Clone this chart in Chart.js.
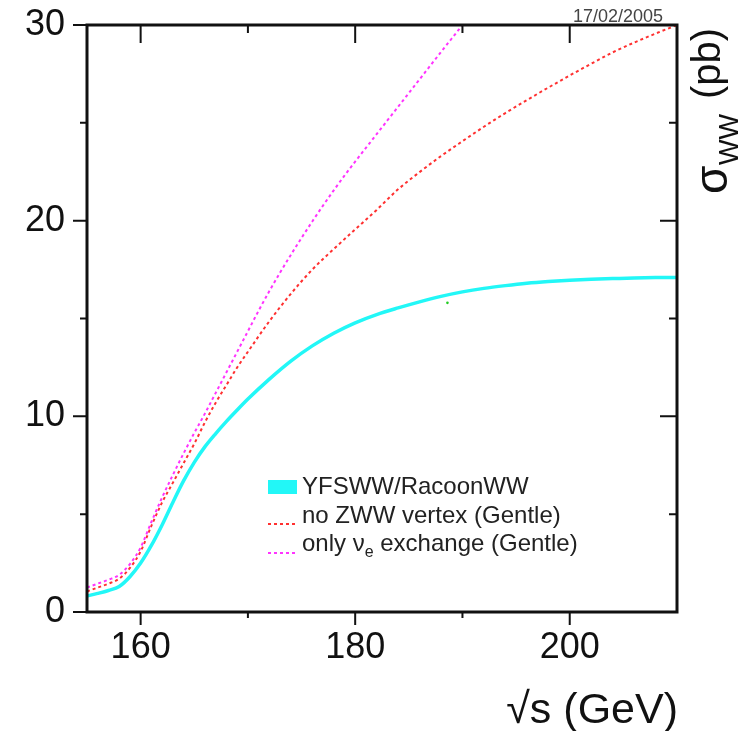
<!DOCTYPE html>
<html>
<head>
<meta charset="utf-8">
<script src="https://cdn.jsdelivr.net/npm/chart.js@4.4.1/dist/chart.umd.min.js"></script>
<style>
  html, body { margin: 0; padding: 0; background: #fff; }
  #wrap { width: 755px; height: 731px; }
</style>
</head>
<body>
<div id="wrap"><canvas id="xsec" width="755" height="731"></canvas></div>
<script>
// sqrt(s) grid shared by YFSWW/RacoonWW and the "no ZWW" curve (GeV)
const sqrtsMain = [155, 156, 157, 158, 159, 160, 161, 162, 163, 164, 165, 166, 167, 168, 169, 170,
  172, 174, 176, 178, 180, 182, 184, 186, 188, 190, 192, 194, 196, 198, 200, 202, 204, 206, 208, 210];
const yfswwRacoon = [0.82, 0.95, 1.1, 1.3, 1.8, 2.5, 3.4, 4.45, 5.6, 6.7, 7.65, 8.45, 9.12, 9.74, 10.32, 10.88,
  11.9, 12.82, 13.6, 14.25, 14.78, 15.2, 15.54, 15.85, 16.13, 16.36, 16.54, 16.68, 16.8, 16.89, 16.96, 17.01, 17.04, 17.07, 17.09, 17.1];
const noZWW = [1.05, 1.25, 1.45, 1.7, 2.25, 3.1, 4.4, 5.6, 6.6, 7.6, 8.6, 9.7, 10.7, 11.6, 12.5, 13.3,
  14.86, 16.26, 17.5, 18.55, 19.55, 20.55, 21.6, 22.48, 23.3, 24.06, 24.8, 25.5, 26.16, 26.8, 27.42, 28.02, 28.6, 29.1, 29.56, 30.0];

// the nu_e-only curve leaves the frame at 190 GeV
const sqrtsNuE = [155, 156, 157, 158, 159, 160, 161, 162, 163, 164, 165, 166, 167, 168, 169, 170, 171, 172,
  173, 174, 175, 176, 177, 178, 179, 180, 181, 182, 183, 184, 185, 186, 187, 188, 189, 190];
const onlyNuE = [1.25, 1.45, 1.65, 1.9, 2.45, 3.3, 4.6, 5.85, 7.0, 8.1, 9.15, 10.15, 11.2, 12.25, 13.3, 14.35, 15.4, 16.4,
  17.35, 18.25, 19.12, 19.96, 20.77, 21.55, 22.3, 23.02, 23.72, 24.42, 25.12, 25.82, 26.52, 27.22, 27.92, 28.62, 29.31, 30.0];

// tiny green marker near 189 GeV
const markX = [188.6];
const markY = [15.8];

const xLabelTicks = [160, 180, 200];
const xMinorTicks = [170, 190];
const yLabelTicks = [0, 10, 20, 30];
const yMinorTicks = [5, 15, 25];

const FONT = '"Liberation Sans", Arial, Helvetica, sans-serif';
const INK = '#111';

function pts(xs, ys) {
  return xs.map((x, i) => ({ x: x, y: ys[i] }));
}

function drawRich(ctx, parts, x, y) {
  parts.forEach(p => {
    ctx.font = p.size + 'px ' + FONT;
    ctx.fillText(p.t, x, y + (p.dy || 0));
    x += ctx.measureText(p.t).width;
  });
}

const framePlugin = {
  id: 'frame',
  afterDatasetsDraw(chart) {
    const { ctx, chartArea: a, scales: { x, y } } = chart;
    ctx.save();
    ctx.strokeStyle = INK;
    ctx.lineWidth = 2;
    ctx.beginPath();
    const xTick = (v, outLen, inLen) => {
      const px = x.getPixelForValue(v);
      ctx.moveTo(px, a.bottom); ctx.lineTo(px, a.bottom + outLen);
      ctx.moveTo(px, a.top); ctx.lineTo(px, a.top + inLen);
    };
    const yTick = (v, outLen, inLen) => {
      const py = y.getPixelForValue(v);
      ctx.moveTo(a.left, py); ctx.lineTo(a.left - outLen, py);
      ctx.moveTo(a.right, py); ctx.lineTo(a.right - inLen, py);
    };
    xLabelTicks.forEach(v => xTick(v, 13, 18));
    xMinorTicks.forEach(v => xTick(v, 6, 8));
    yLabelTicks.forEach(v => yTick(v, 14, 17));
    yMinorTicks.forEach(v => yTick(v, 7, 8));
    ctx.stroke();
    ctx.lineWidth = 3;
    ctx.strokeRect(a.left, a.top, a.right - a.left, a.bottom - a.top);
    ctx.restore();
  },
  afterDraw(chart) {
    const { ctx, chartArea: a } = chart;
    ctx.save();
    ctx.fillStyle = INK;
    ctx.textBaseline = 'alphabetic';

    // x title
    ctx.font = '43px ' + FONT;
    ctx.textAlign = 'right';
    ctx.fillText('\u221As (GeV)', a.right + 1, 723);

    // date stamp
    ctx.font = '18px ' + FONT;
    ctx.fillStyle = '#444';
    ctx.fillText('17/02/2005', 663, 22);

    // y title, rotated, reading upwards; sy = where each piece starts
    ctx.fillStyle = INK;
    ctx.textAlign = 'left';
    const yParts = [
      { t: '\u03C3', size: 46, bx: 727, sy: 194 },
      { t: 'WW', size: 27, bx: 738, sy: 165 },
      { t: '(pb)', size: 40, bx: 720, sy: 99 }
    ];
    yParts.forEach(p => {
      ctx.font = p.size + 'px ' + FONT;
      ctx.save();
      ctx.translate(p.bx, p.sy);
      ctx.rotate(-Math.PI / 2);
      ctx.fillText(p.t, 0, 0);
      ctx.restore();
    });

    // legend
    const lx = 268, tx = 302;
    ctx.fillStyle = '#22f7f7';
    ctx.fillRect(lx, 480, 29, 14);
    ctx.lineWidth = 2;
    ctx.setLineDash([3, 3]);
    ctx.strokeStyle = '#ff3030';
    ctx.beginPath(); ctx.moveTo(lx, 524); ctx.lineTo(lx + 29, 524); ctx.stroke();
    ctx.strokeStyle = '#ff33ff';
    ctx.beginPath(); ctx.moveTo(lx, 553); ctx.lineTo(lx + 29, 553); ctx.stroke();
    ctx.setLineDash([]);
    ctx.fillStyle = '#222';
    drawRich(ctx, [{ t: 'YFSWW/RacoonWW', size: 24 }], tx, 494);
    drawRich(ctx, [{ t: 'no ZWW vertex (Gentle)', size: 24 }], tx, 523);
    drawRich(ctx, [
      { t: 'only ', size: 24 },
      { t: '\u03BD', size: 24 },
      { t: 'e', size: 16, dy: 6 },
      { t: ' exchange (Gentle)', size: 24 }
    ], tx, 551);
    ctx.restore();
  }
};

new Chart(document.getElementById('xsec'), {
  type: 'line',
  data: {
    datasets: [
      {
        label: 'YFSWW/RacoonWW',
        data: pts(sqrtsMain, yfswwRacoon),
        borderColor: '#22f7f7',
        borderWidth: 3.5,
        pointRadius: 0,
        cubicInterpolationMode: 'monotone',
        order: 3
      },
      {
        label: 'no ZWW vertex (Gentle)',
        data: pts(sqrtsMain, noZWW),
        borderColor: '#ff3030',
        borderWidth: 2,
        borderDash: [3, 3],
        pointRadius: 0,
        cubicInterpolationMode: 'monotone',
        order: 2
      },
      {
        label: 'only \u03BDe exchange (Gentle)',
        data: pts(sqrtsNuE, onlyNuE),
        borderColor: '#ff33ff',
        borderWidth: 2,
        borderDash: [3, 3],
        pointRadius: 0,
        cubicInterpolationMode: 'monotone',
        order: 1
      },
      {
        label: 'mark',
        data: pts(markX, markY),
        showLine: false,
        pointRadius: 1.3,
        pointBackgroundColor: '#22cc22',
        pointBorderWidth: 0,
        order: 0
      }
    ]
  },
  options: {
    responsive: false,
    animation: false,
    devicePixelRatio: 1,
    layout: { padding: { top: 25, right: 78, left: 0, bottom: 0 } },
    plugins: { legend: { display: false }, tooltip: { enabled: false } },
    scales: {
      x: {
        type: 'linear',
        min: 155,
        max: 210,
        afterBuildTicks: s => { s.ticks = xLabelTicks.map(v => ({ value: v })); },
        afterFit: s => { s.height = 119; s.paddingLeft = 0; s.paddingRight = 0; },
        grid: { display: false },
        border: { display: false },
        ticks: { font: { family: FONT, size: 36 }, color: INK, padding: 6, maxRotation: 0, autoSkip: false }
      },
      y: {
        type: 'linear',
        min: 0,
        max: 30,
        afterBuildTicks: s => { s.ticks = yLabelTicks.map(v => ({ value: v })); },
        afterFit: s => { s.width = 87; s.paddingTop = 0; s.paddingBottom = 0; },
        grid: { display: false },
        border: { display: false },
        ticks: { font: { family: FONT, size: 36 }, color: INK, padding: 14, autoSkip: false }
      }
    }
  },
  plugins: [framePlugin]
});
</script>
</body>
</html>
